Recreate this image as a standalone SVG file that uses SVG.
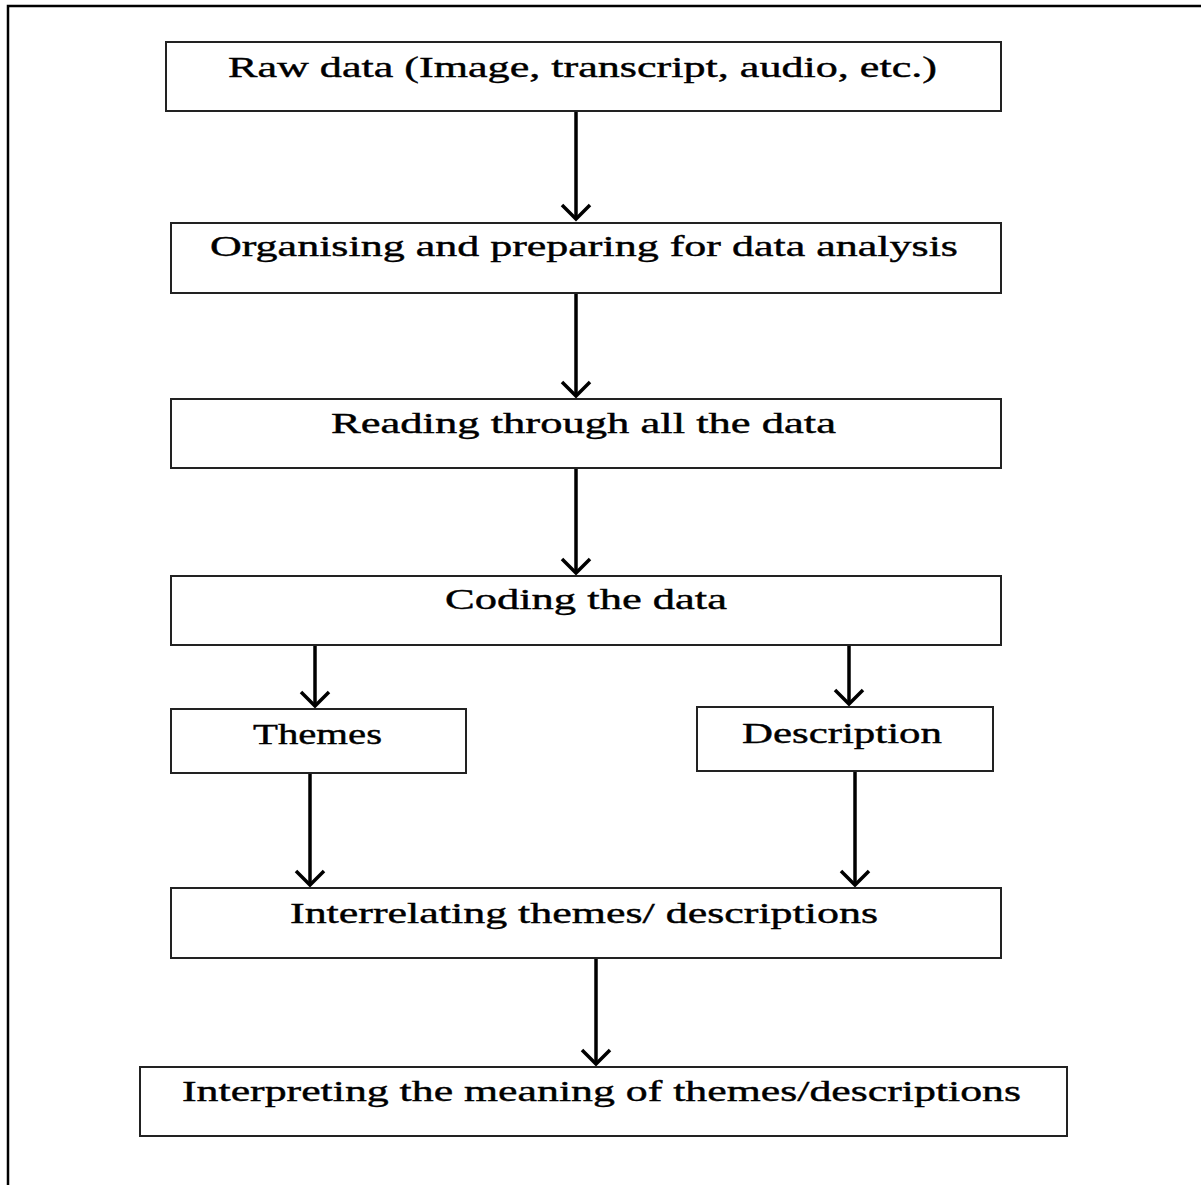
<svg xmlns="http://www.w3.org/2000/svg" width="1201" height="1185" viewBox="0 0 1201 1185">
  <defs>
    <!-- open V arrowhead, drawn pointing along +x -->
    <marker id="arrow" markerWidth="24" markerHeight="36" viewBox="0 0 24 36" refX="19" refY="18" orient="auto" markerUnits="userSpaceOnUse">
      <path d="M5 4 L19 18 L5 32" fill="none" stroke="#000" stroke-width="3.5" stroke-linejoin="miter"/>
    </marker>
  </defs>
  <style>
    .frame { fill: none; stroke: #000; stroke-width: 2.5; }
    .box { fill: #fff; stroke: #222; stroke-width: 2; }
    .label { font-family: "Liberation Serif", "Times New Roman", serif; font-size: 29px; fill: #000; stroke: #000; stroke-width: 0.4; }
    .link { stroke: #000; stroke-width: 3.5; fill: none; }
  </style>
  <rect width="1201" height="1185" fill="#fff"/>
  <!-- outer frame, running off the right and bottom edges -->
  <rect class="frame" x="8" y="6" width="1200" height="1190"/>

  <g id="connectors">
    <line class="link" x1="576" y1="111" x2="576" y2="219" marker-end="url(#arrow)"/>
    <line class="link" x1="576" y1="293" x2="576" y2="396" marker-end="url(#arrow)"/>
    <line class="link" x1="576" y1="468" x2="576" y2="573" marker-end="url(#arrow)"/>
    <line class="link" x1="315" y1="645" x2="315" y2="706" marker-end="url(#arrow)"/>
    <line class="link" x1="849" y1="645" x2="849" y2="704" marker-end="url(#arrow)"/>
    <line class="link" x1="310" y1="773" x2="310" y2="885" marker-end="url(#arrow)"/>
    <line class="link" x1="855" y1="771" x2="855" y2="885" marker-end="url(#arrow)"/>
    <line class="link" x1="596" y1="958" x2="596" y2="1064" marker-end="url(#arrow)"/>
  </g>

  <g id="raw-data">
    <rect class="box" x="166" y="42" width="835" height="69"/>
    <text class="label" x="228" y="77" textLength="709" lengthAdjust="spacingAndGlyphs">Raw data (Image, transcript, audio, etc.)</text>
  </g>
  <g id="organising">
    <rect class="box" x="171" y="223" width="830" height="70"/>
    <text class="label" x="210" y="256" textLength="748" lengthAdjust="spacingAndGlyphs">Organising  and preparing  for data analysis</text>
  </g>
  <g id="reading">
    <rect class="box" x="171" y="399" width="830" height="69"/>
    <text class="label" x="331" y="433" textLength="505" lengthAdjust="spacingAndGlyphs">Reading through all  the data</text>
  </g>
  <g id="coding">
    <rect class="box" x="171" y="576" width="830" height="69"/>
    <text class="label" x="445" y="609" textLength="282" lengthAdjust="spacingAndGlyphs">Coding the data</text>
  </g>
  <g id="themes">
    <rect class="box" x="171" y="709" width="295" height="64"/>
    <text class="label" x="253" y="744" textLength="129" lengthAdjust="spacingAndGlyphs">Themes</text>
  </g>
  <g id="description">
    <rect class="box" x="697" y="707" width="296" height="64"/>
    <text class="label" x="742" y="743" textLength="200" lengthAdjust="spacingAndGlyphs">Description</text>
  </g>
  <g id="interrelating">
    <rect class="box" x="171" y="888" width="830" height="70"/>
    <text class="label" x="290" y="923" textLength="588" lengthAdjust="spacingAndGlyphs">Interrelating themes/  descriptions</text>
  </g>
  <g id="interpreting">
    <rect class="box" x="140" y="1067" width="927" height="69"/>
    <text class="label" x="182" y="1101" textLength="839" lengthAdjust="spacingAndGlyphs">Interpreting  the meaning  of themes/descriptions</text>
  </g>
</svg>
